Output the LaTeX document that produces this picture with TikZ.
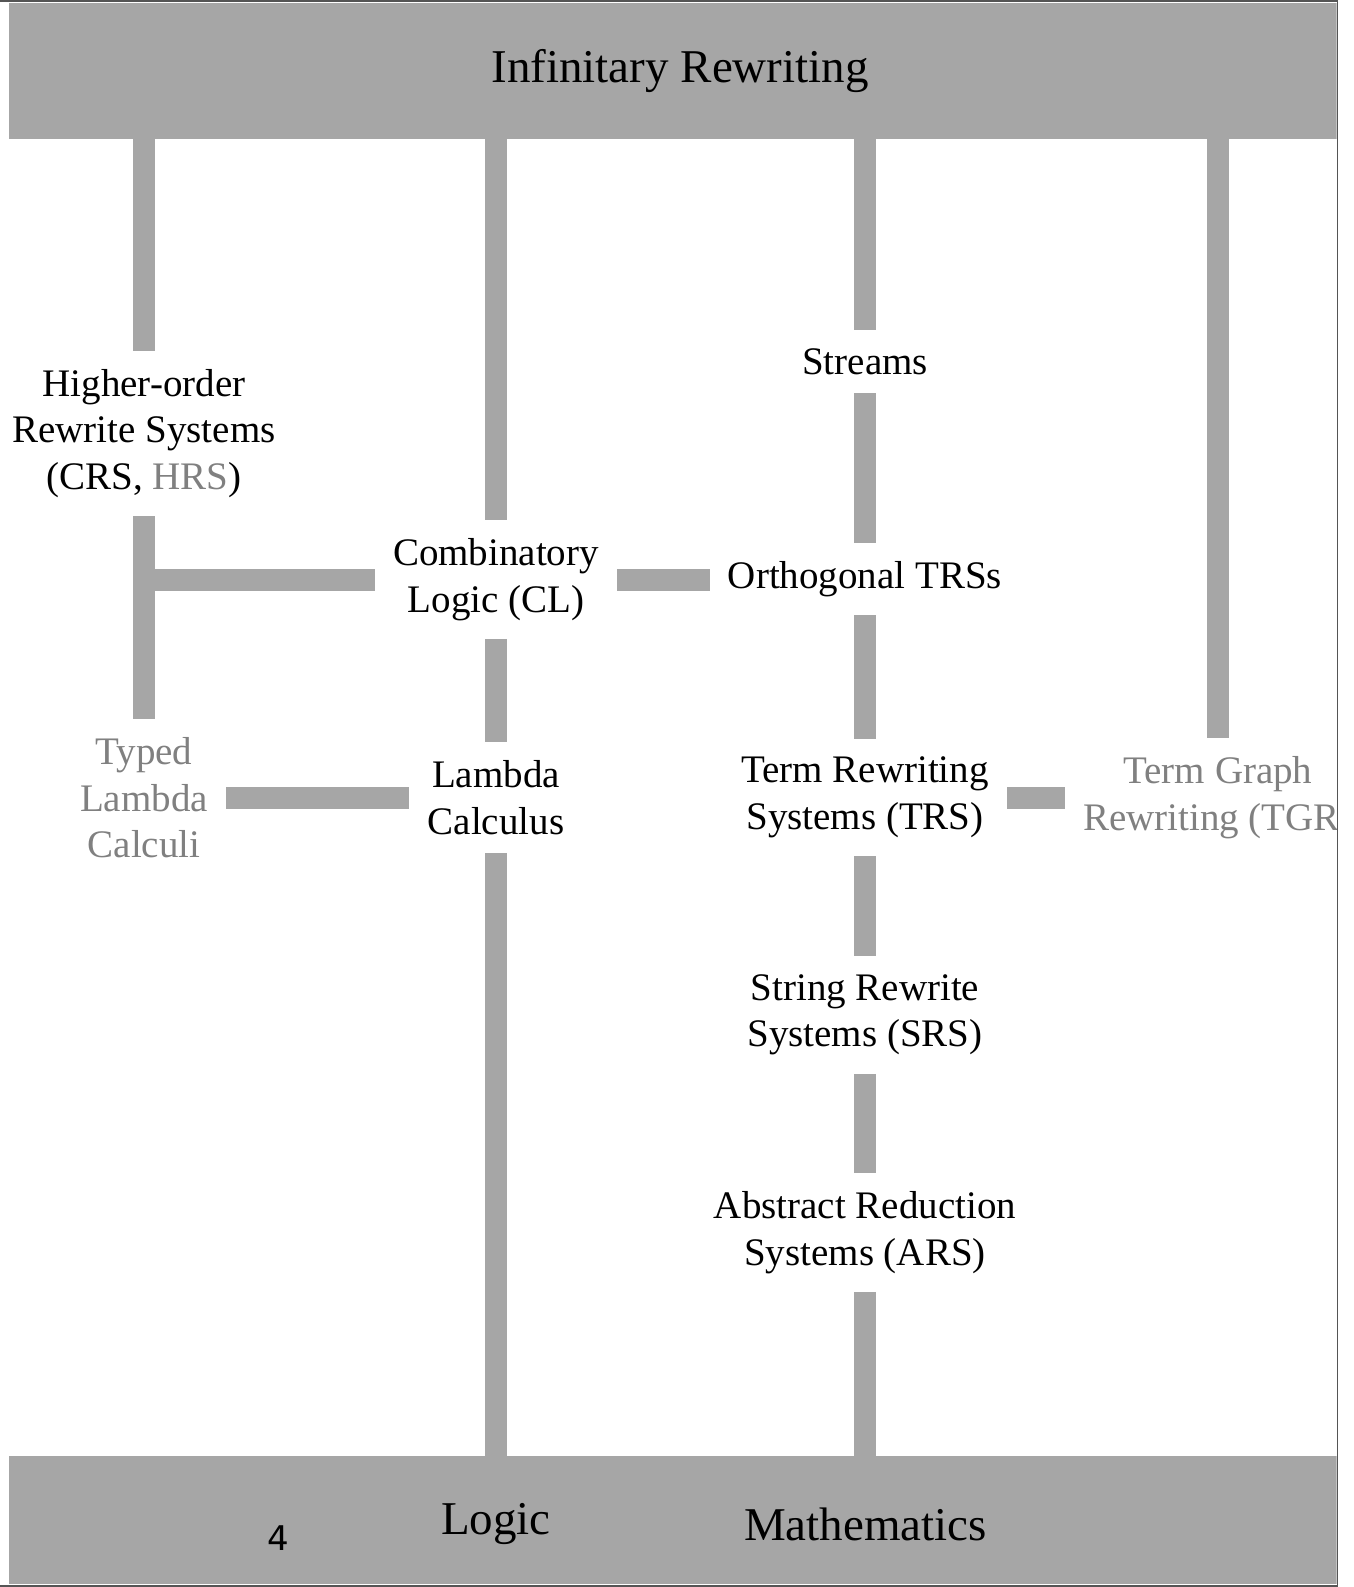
\documentclass[tikz,border=0pt]{standalone}
\usepackage{fontspec}
\setmainfont{Liberation Serif}
\newfontfamily\numfont{DejaVu Sans}
\definecolor{bandgray}{RGB}{166,166,166}
\definecolor{softgray}{RGB}{128,128,128}
\definecolor{framegray}{RGB}{85,85,85}
\begin{document}
\begin{tikzpicture}[x=0.5pt,y=-0.5pt,
  topic/.style={align=center, inner sep=9pt, font=\fontsize{19.5}{23.25}\selectfont},
  faded/.style={topic, text=softgray},
  bar/.style={draw=bandgray, line width=11pt},
  band/.style={fill=bandgray, inner sep=0pt, minimum width=664pt},
  bigtext/.style={font=\fontsize{23.5}{28}\selectfont, inner sep=0pt}
]
\useasboundingbox (0,0) rectangle (1354,1587);
\begin{scope}
\clip (-5,-5) rectangle (1336.5,1592);
% bands
\node[band, minimum height=68pt] (top) at (673,71) {};
\node[bigtext] (ttl) at (680,71) {Infinitary Rewriting};
\node[band, minimum height=64pt] (bottom) at (673,1520) {};
\node[bigtext] (logic) at (496,1524) {Logic};
\node[bigtext] (math) at (865.5,1524) {Mathematics};
\node[font=\numfont\fontsize{17}{20}\selectfont, anchor=base, inner sep=0pt] (pagenum) at (278,1550) {4};
% topics
\node[topic] (hos) at (144,433.5) {Higher-order\\Rewrite Systems\\(CRS, \textcolor{softgray}{HRS})};
\node[faded] (tlc) at (144,798) {Typed\\Lambda\\Calculi};
\node[topic] (cl) at (496,579.5) {Combinatory\\Logic (CL)};
\node[topic] (lc) at (496,797.5) {Lambda\\Calculus};
\node[topic] (str) at (865,361.5) {Streams};
\node[topic] (otrs) at (865,579) {Orthogonal TRSs};
\node[topic] (trs) at (865,797.5) {Term Rewriting\\Systems (TRS)};
\node[topic] (srs) at (865,1015) {String Rewrite\\Systems (SRS)};
\node[topic] (ars) at (865,1232.5) {Abstract Reduction\\Systems (ARS)};
\node[faded] (tgr) at (1218,797.5) {Term Graph\\Rewriting (TGR\phantom{)}};
% bars
\draw[bar] (top.south -| hos) -- (hos.north);
\draw[bar] (hos.south) -- (tlc.north);
\draw[bar] (cl.west) -- (cl.west -| hos.south);
\draw[bar] (top.south -| cl) -- (cl.north);
\draw[bar] (cl.south) -- (lc.north);
\draw[bar] (lc.south) -- (bottom.north -| lc);
\draw[bar] (tlc.east) -- (tlc.east -| lc.west);
\draw[bar] (cl.east) -- (cl.east -| otrs.west);
\draw[bar] (top.south -| str) -- (str.north);
\draw[bar] (str.south) -- (otrs.north);
\draw[bar] (otrs.south) -- (trs.north);
\draw[bar] (trs.east) -- (trs.east -| tgr.west);
\draw[bar] (trs.south) -- (srs.north);
\draw[bar] (srs.south) -- (ars.north);
\draw[bar] (ars.south) -- (bottom.north -| ars);
\draw[bar] (top.south -| tgr) -- (tgr.north);
\end{scope}
% frame
\draw[framegray, line width=0.75pt] (-2,0.75) -- (1337.25,0.75) -- (1337.25,1585.75) -- (-2,1585.75);
\end{tikzpicture}
\end{document}
